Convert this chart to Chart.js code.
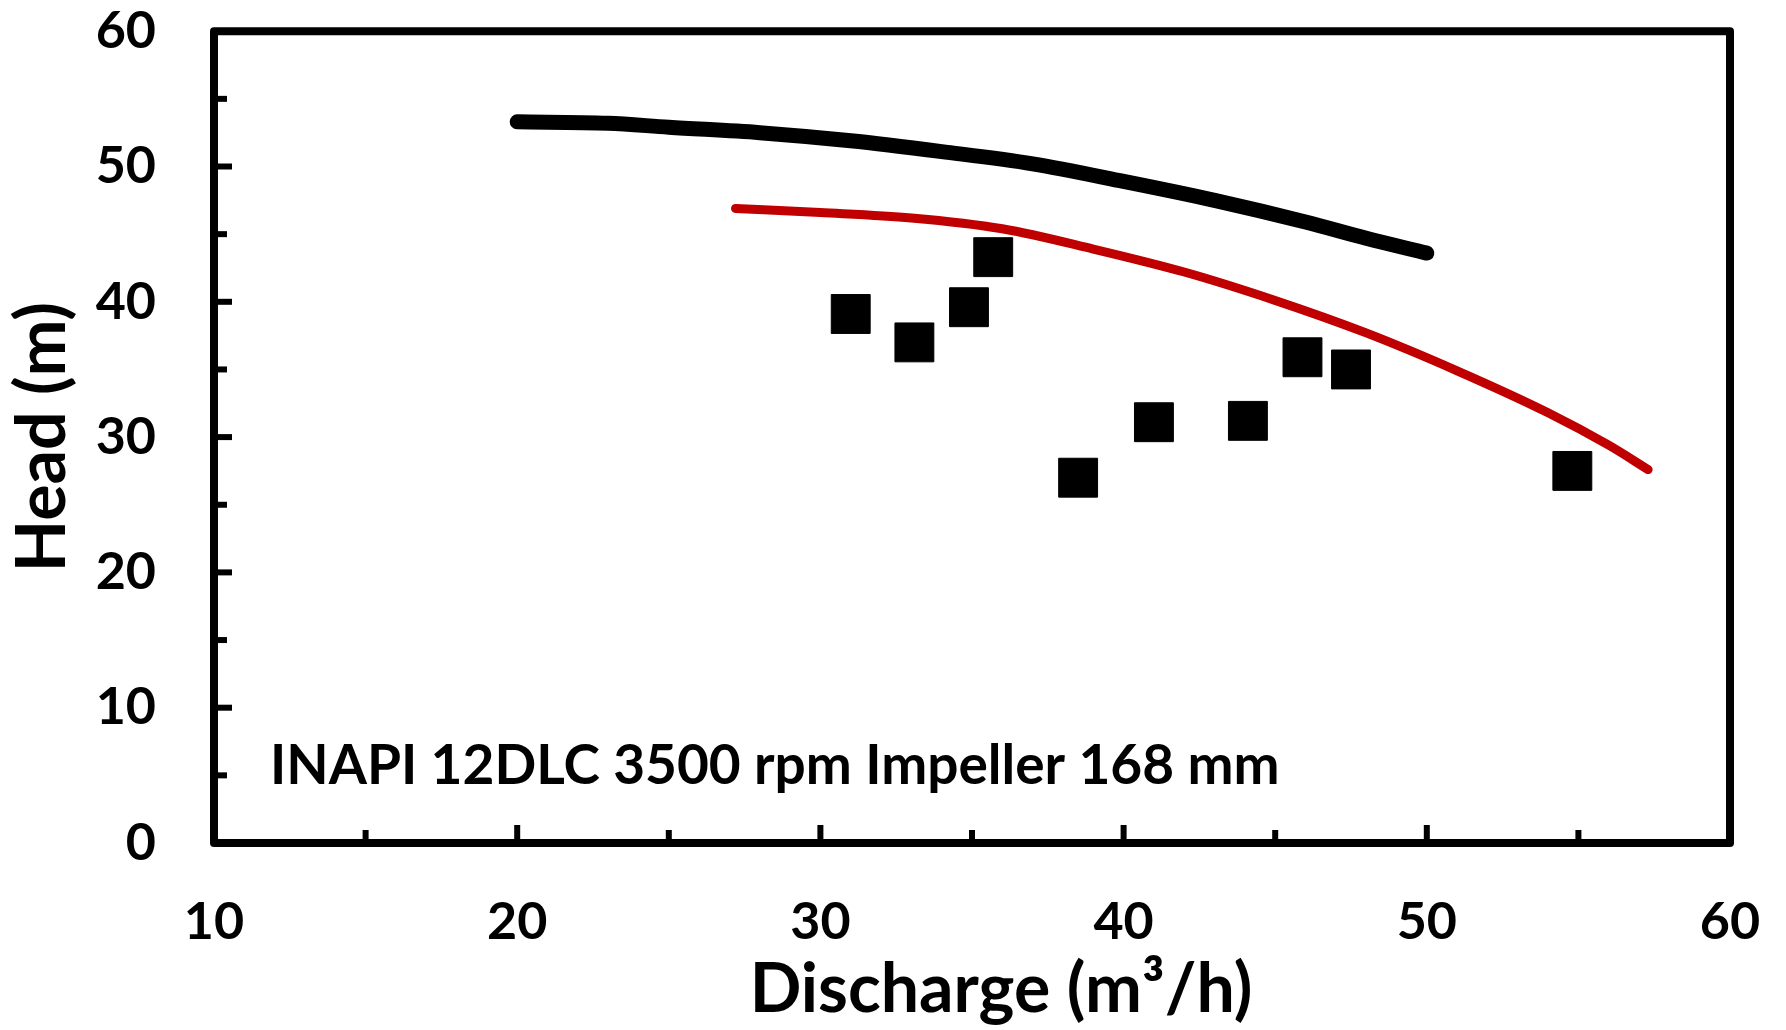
<!DOCTYPE html>
<html>
<head>
<meta charset="utf-8">
<script src="https://cdn.jsdelivr.net/npm/chart.js@4.4.1/dist/chart.umd.min.js"></script>
<style>
  html, body { margin: 0; padding: 0; background: #fff; }
  #wrap { width: 1786px; height: 1030px; }
</style>
</head>
<body>
<div id="wrap"><canvas id="pumpChart"></canvas></div>
<script>
// pump curve (manufacturer), red fitted curve, measured points
const pumpQ = [20, 23, 25, 28, 31, 34, 37, 40, 43, 46, 48, 50];
const pumpH = [53.3, 53.2, 52.9, 52.5, 51.9, 51.1, 50.2, 48.9, 47.5, 45.9, 44.7, 43.6];

const fitQ = [27.2, 30, 33, 36, 39, 42, 45, 48, 51, 54, 56, 57.3];
const fitH = [46.9, 46.6, 46.2, 45.4, 43.9, 42.2, 40.1, 37.7, 34.9, 31.8, 29.4, 27.6];

const measQ = [31.0, 33.1, 34.9, 35.7, 38.5, 41.0, 44.1, 45.9, 47.5, 54.8];
const measH = [39.1, 37.0, 39.6, 43.3, 27.0, 31.1, 31.2, 35.9, 35.0, 27.5];

const xTicks = [10, 20, 30, 40, 50, 60];
const yTicks = [0, 10, 20, 30, 40, 50, 60];

const note = "INAPI 12DLC 3500 rpm Impeller 168 mm";
const xTitle = "Discharge (m³/h)";
const fontFam = "Lato, 'Open Sans', sans-serif";

function pts(xs, ys) {
    return xs.map((x, i) => ({ x: x, y: ys[i] }));
}

// box around the plot + inward tick marks + texts
const frame = {
    id: 'frame',
    beforeDatasetsDraw(chart) {
        const { ctx, chartArea: a, scales } = chart;
        ctx.save();
        ctx.strokeStyle = '#000';
        ctx.lineWidth = 8;
        ctx.lineJoin = 'round';
        ctx.strokeRect(a.left, a.top, a.right - a.left, a.bottom - a.top);

        ctx.lineWidth = 6;
        ctx.lineCap = 'butt';
        scales.x.ticks.forEach(t => {
            if (t.value === 10 || t.value === 60) return;
            const px = scales.x.getPixelForValue(t.value);
            const len = xTicks.includes(t.value) ? 18 : 13;
            ctx.beginPath();
            ctx.moveTo(px, a.bottom);
            ctx.lineTo(px, a.bottom - len);
            ctx.stroke();
        });
        scales.y.ticks.forEach(t => {
            if (t.value === 0 || t.value === 60) return;
            const py = scales.y.getPixelForValue(t.value);
            const len = yTicks.includes(t.value) ? 18 : 13;
            ctx.beginPath();
            ctx.moveTo(a.left, py);
            ctx.lineTo(a.left + len, py);
            ctx.stroke();
        });
        ctx.restore();
    },
    afterDraw(chart) {
        const { ctx, chartArea: a } = chart;
        ctx.save();
        ctx.fillStyle = '#000';
        ctx.textBaseline = 'alphabetic';
        ctx.font = "bold 55px " + fontFam;
        ctx.fillText(note, a.left + 56, a.bottom - 59);

        // x title sits a bit right of centre in the original
        ctx.font = "bold 68px " + fontFam;
        ctx.textAlign = 'center';
        ctx.fillText(xTitle, (a.left + a.right) / 2 + 29, 1012);
        ctx.restore();
    }
};

const chart = new Chart(document.getElementById('pumpChart'), {
    type: 'scatter',
    data: {
        datasets: [
            {
                label: 'Pump curve',
                data: pts(pumpQ, pumpH),
                showLine: true,
                borderColor: '#000',
                borderWidth: 15,
                borderCapStyle: 'round',
                pointRadius: 0,
                cubicInterpolationMode: 'monotone'
            },
            {
                label: 'Fit',
                data: pts(fitQ, fitH),
                showLine: true,
                borderColor: '#C00000',
                borderWidth: 9,
                borderCapStyle: 'round',
                pointRadius: 0,
                cubicInterpolationMode: 'monotone'
            },
            {
                label: 'Measured',
                data: pts(measQ, measH),
                showLine: false,
                pointStyle: 'rect',
                pointRadius: 27.5,
                backgroundColor: '#000',
                borderColor: '#000',
                borderWidth: 1
            }
        ]
    },
    options: {
        responsive: true,
        maintainAspectRatio: false,
        animation: false,
        layout: { padding: { top: 29, right: 56, left: 0, bottom: 0 } },
        plugins: { legend: { display: false }, tooltip: { enabled: false } },
        scales: {
            x: {
                type: 'linear',
                min: 10, max: 60,
                // grid hidden; tickLength only pushes the labels down
                grid: { display: false, drawTicks: true, tickLength: 48 },
                border: { display: false },
                ticks: {
                    stepSize: 5,
                    padding: 0,
                    maxRotation: 0,
                    autoSkip: false,
                    color: '#000',
                    font: { family: fontFam, size: 52, weight: 'bold' },
                    callback: v => xTicks.includes(v) ? v : ''
                },
                title: { display: false },
                afterFit: s => { s.height = 187; }
            },
            y: {
                type: 'linear',
                min: 0, max: 60,
                grid: { display: false, drawTicks: true, tickLength: 58 },
                border: { display: false },
                ticks: {
                    stepSize: 5,
                    padding: 0,
                    autoSkip: false,
                    color: '#000',
                    font: { family: fontFam, size: 52, weight: 'bold' },
                    callback: v => yTicks.includes(v) ? v : ''
                },
                title: {
                    display: true,
                    text: 'Head (m)',
                    color: '#000',
                    padding: 2,
                    font: { family: fontFam, size: 68, weight: 'bold', lineHeight: 1.2 }
                },
                afterFit: s => { s.width = 214; }
            }
        }
    },
    plugins: [frame]
});
</script>
</body>
</html>
